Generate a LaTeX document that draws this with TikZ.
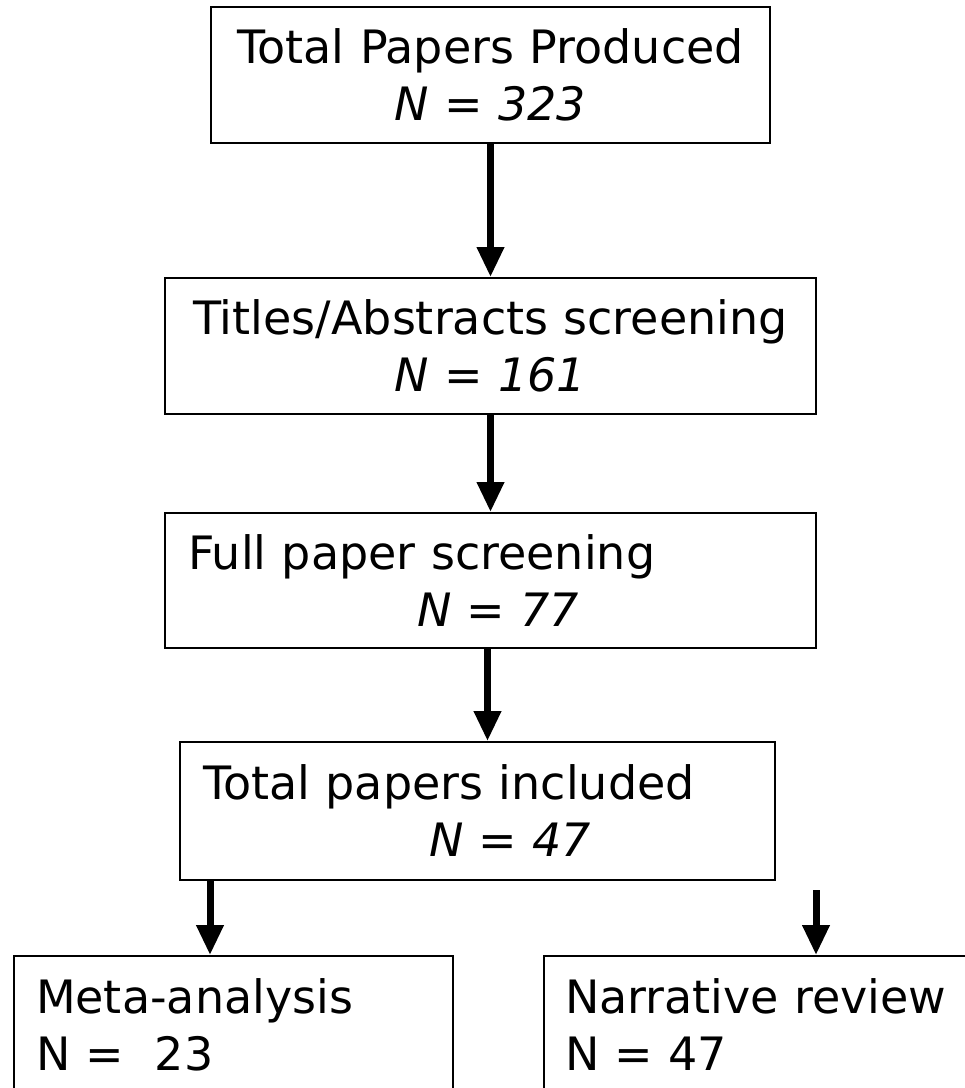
\documentclass[tikz,border=0pt]{standalone}
\usepackage{fontspec}
\setmainfont{DejaVu Sans}
\usetikzlibrary{arrows.meta}

\begin{document}
\begin{tikzpicture}[x=1pt, y=-1pt,
  box/.style={rectangle, draw=black, line width=2pt, minimum height=#1, inner xsep=0pt, inner ysep=0pt, font=\fontsize{46}{57}\selectfont},
  box/.default=138pt,
  flow/.style={line width=7pt, -{Triangle[length=30pt, width=26pt]}}]
\useasboundingbox (0,0) rectangle (965,1088);

\node (total) [box=136pt, minimum width=559pt, text width=545pt, align=center] at (490.5,75) {Total Papers Produced\\ \textit{N = 323}};
\node (titles) [box=136pt, minimum width=651pt, text width=640pt, align=center] at (490.5,346) {Titles/Abstracts screening\\ \textit{N = 161}};
\node (fullpaper) [box=135pt, minimum width=651pt, text width=605pt, align=left] at (490.5,580.5) {Full paper screening\\ \hspace*{229pt}\textit{N = 77}};
\node (included) [box, minimum width=595pt, text width=549pt, align=left] at (477.5,811) {Total papers included\\ \hspace*{226pt}\textit{N = 47}};
\node (meta) [box, minimum width=439pt, text width=395pt, align=left] at (233.5,1025) {Meta-analysis\\ N =~ 23};
\node (narrative) [box, minimum width=439pt, text width=397pt, align=left] at (763.5,1025) {Narrative review\\ N = 47};

\draw[flow] (total) -- (titles);
\draw[flow] (titles) -- (fullpaper);
\draw[flow] ([xshift=-3pt]fullpaper.south) -- ([xshift=-3pt]fullpaper.south |- included.north);
\draw[flow] ([xshift=31pt]included.south west) -- ([xshift=31pt]included.south west |- meta.north);
\coordinate (narrstart) at (816,890);
\draw[flow] (narrstart) -- (narrstart |- narrative.north);

\end{tikzpicture}
\end{document}
